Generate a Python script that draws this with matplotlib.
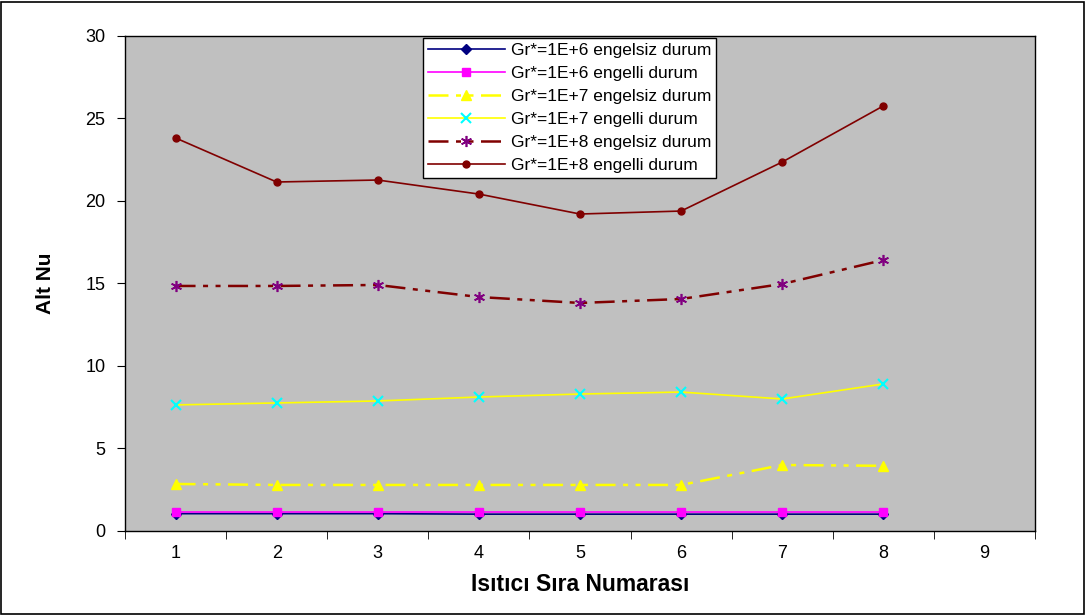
import matplotlib.pyplot as plt
from matplotlib.patches import Rectangle
from matplotlib.ticker import FixedLocator

plt.rcParams['font.family'] = ['Liberation Sans', 'DejaVu Sans']

# dati
heaters = [1, 2, 3, 4, 5, 6, 7, 8]
gr6_engelsiz = [1.05, 1.05, 1.05, 1.02, 1.02, 1.02, 1.02, 1.02]
gr6_engelli = [1.15, 1.15, 1.15, 1.15, 1.15, 1.15, 1.15, 1.15]
gr7_engelsiz = [2.85, 2.79, 2.79, 2.79, 2.79, 2.79, 4.0, 3.95]
gr7_engelli = [7.64, 7.76, 7.88, 8.12, 8.30, 8.42, 8.0, 8.91]
gr8_engelsiz = [14.85, 14.85, 14.91, 14.18, 13.82, 14.06, 14.97, 16.42]
gr8_engelli = [23.82, 21.15, 21.27, 20.42, 19.21, 19.39, 22.36, 25.76]
labels = ['Gr*=1E+6 engelsiz durum', 'Gr*=1E+6 engelli durum',
          'Gr*=1E+7 engelsiz durum', 'Gr*=1E+7 engelli durum',
          'Gr*=1E+8 engelsiz durum', 'Gr*=1E+8 engelli durum']

fig = plt.figure(figsize=(10.86, 6.15), dpi=100)
fig.patches.append(Rectangle((0.001, 0.002), 0.997, 0.995, transform=fig.transFigure,
                             fill=False, edgecolor='black', linewidth=1.2))
ax = fig.add_axes([0.1151, 0.1366, 0.8379, 0.8049])
ax.set_facecolor('#C0C0C0')

dashdotdot = (0, (8, 3, 2, 3, 2, 3))
ax.plot(heaters, gr6_engelsiz, color='#000080', marker='D', markersize=5, lw=1.2, label=labels[0])
ax.plot(heaters, gr6_engelli, color='#FF00FF', marker='s', markersize=6, lw=1.2, label=labels[1])
ax.plot(heaters, gr7_engelsiz, color='#FFFF00', marker='^', markersize=7, lw=1.8,
        linestyle=dashdotdot, label=labels[2])
ax.plot(heaters, gr7_engelli, color='#FFFF00', marker='x', markersize=7, mec='#00FFFF',
        mew=1.5, lw=1.2, label=labels[3])
ax.plot(heaters, gr8_engelsiz, color='#800000', marker=(6, 2, 0), markersize=8, mec='#800080',
        mew=1.2, lw=1.8, linestyle=dashdotdot, label=labels[4])
ax.plot(heaters, gr8_engelli, color='#800000', marker='o', markersize=5, lw=1.2, label=labels[5])

ax.set_xlim(0.5, 9.5)
ax.set_ylim(0, 30)
ax.set_xticks(range(1, 10))
ax.xaxis.set_minor_locator(FixedLocator([i + 0.5 for i in range(0, 10)]))
ax.tick_params(axis='x', which='major', length=0, labelsize=13, pad=10)
ax.tick_params(axis='x', which='minor', length=6, direction='out')
ax.set_yticks(range(0, 31, 5))
ax.tick_params(axis='y', length=6, direction='out', labelsize=13, pad=8)
for s in ax.spines.values():
    s.set_linewidth(1.0)

ax.set_xlabel('Isıtıcı Sıra Numarası', fontsize=16.5, fontweight='bold', labelpad=8)
ax.set_ylabel('Alt Nu', fontsize=15, fontweight='bold', labelpad=22)

leg = ax.legend(loc='upper left', bbox_to_anchor=(0.3275, 0.996), borderaxespad=0,
                fontsize=12.5, frameon=True, fancybox=False, edgecolor='black',
                framealpha=1, borderpad=0.3, labelspacing=0.45, handlelength=4.4,
                handletextpad=0.35)
leg.get_frame().set_linewidth(1.0)

fig.savefig('out.png', dpi=100)
